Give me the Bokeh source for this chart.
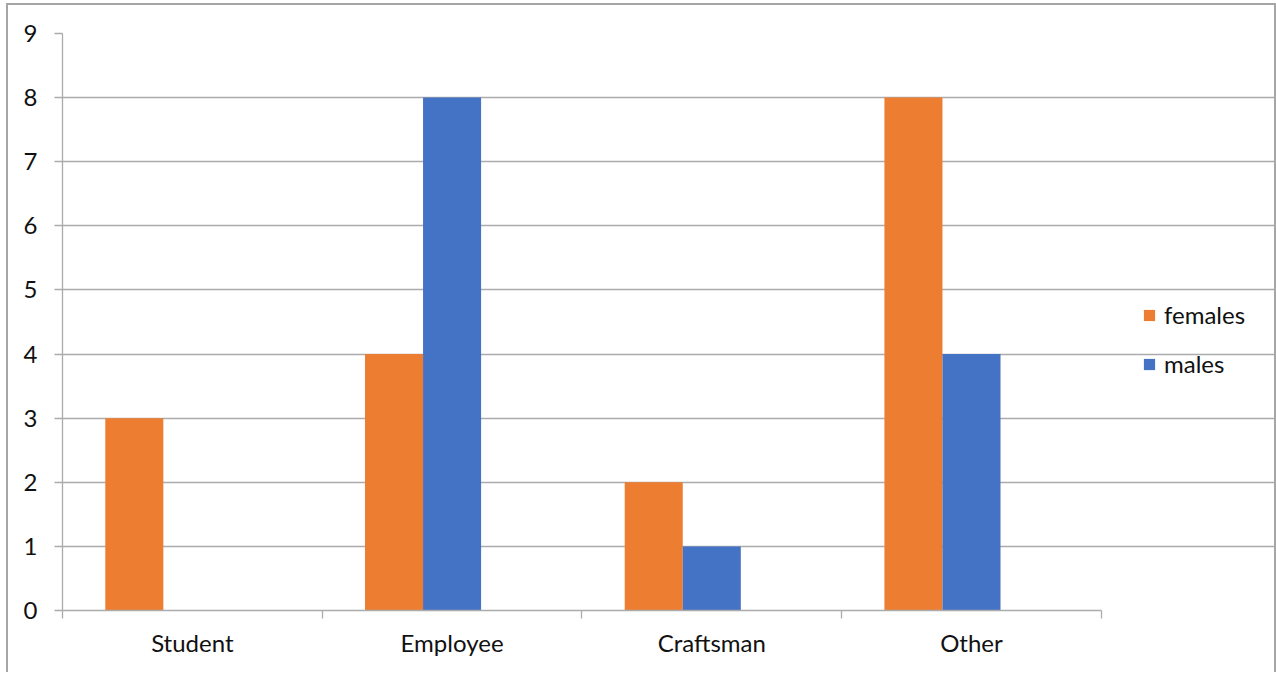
from bokeh.plotting import figure
from bokeh.models import ColumnDataSource, FixedTicker, Range1d, Legend, LegendItem
from bokeh.transform import dodge
from bokeh.embed import file_html
from bokeh.resources import INLINE

categories = ["Student", "Employee", "Craftsman", "Other"]
females = [3, 4, 2, 8]
males = [0, 8, 1, 4]
y_ticks = [0, 1, 2, 3, 4, 5, 6, 7, 8, 9]

FONT = "Lato"
FONT_SIZE = "24px"
TEXT = "#111111"
GRID = "#ABABAB"
ORANGE = "#ED7D31"
BLUE = "#4472C4"
BAR_W = 0.2235

n = len(categories)
slots = [i + 0.5 for i in range(n)]
source = ColumnDataSource(data=dict(x=slots, females=females, males=males))

# the frame reaches the right edge so the legend can sit inside it;
# axis and gridlines are bounded to the category span
X_END = n * 1211 / 1038

p = figure(
    width=1270, height=669,
    x_range=Range1d(0, X_END), y_range=Range1d(0, 9),
    output_backend="svg", toolbar_location=None,
    min_border_left=54, min_border_right=4, min_border_top=28, min_border_bottom=64,
)
p.styles = {
    "border-top": "2px solid #A6A6A6",
    "border-left": "2px solid #A6A6A6",
    "border-right": "2px solid #A6A6A6",
    "margin-left": "6px",
    "margin-top": "3px",
}

r_f = p.vbar(x=dodge("x", -BAR_W, range=p.x_range), top="females", width=BAR_W,
             source=source, fill_color=ORANGE, line_color=None)
r_m = p.vbar(x="x", top="males", width=BAR_W,
             source=source, fill_color=BLUE, line_color=None)

p.outline_line_color = None
p.background_fill_color = "white"
p.border_fill_color = "white"

# horizontal gridlines only
p.xgrid.grid_line_color = None
p.ygrid.grid_line_color = GRID
p.ygrid.grid_line_width = 1.3
p.ygrid.ticker = FixedTicker(ticks=y_ticks)
p.ygrid.bounds = (0, n)

# y axis
p.yaxis.ticker = FixedTicker(ticks=y_ticks)
p.yaxis.axis_line_color = GRID
p.yaxis.axis_line_width = 1.3
p.yaxis.major_tick_line_color = GRID
p.yaxis.major_tick_line_width = 1.3
p.yaxis.major_tick_out = 8
p.yaxis.major_tick_in = 0
p.yaxis.minor_tick_line_color = None
p.yaxis.major_label_standoff = 17
p.yaxis.major_label_text_font = FONT
p.yaxis.major_label_text_font_size = FONT_SIZE
p.yaxis.major_label_text_color = TEXT

# x axis: labels at category centres, tick marks at category boundaries
p.xaxis.ticker = FixedTicker(ticks=slots, minor_ticks=list(range(n + 1)))
p.xaxis.bounds = (0, n)
p.xaxis.major_label_overrides = {s: c for s, c in zip(slots, categories)}
p.xaxis.axis_line_color = GRID
p.xaxis.axis_line_width = 1.3
p.xaxis.major_tick_line_color = None
p.xaxis.major_tick_out = 0
p.xaxis.major_tick_in = 0
p.xaxis.minor_tick_line_color = GRID
p.xaxis.minor_tick_line_width = 1.3
p.xaxis.minor_tick_out = 8
p.xaxis.minor_tick_in = 0
p.xaxis.major_label_standoff = 9
p.xaxis.major_label_text_font = FONT
p.xaxis.major_label_text_font_size = FONT_SIZE
p.xaxis.major_label_text_color = TEXT

legend = Legend(
    items=[LegendItem(label="females", renderers=[r_f]),
           LegendItem(label="males", renderers=[r_m])],
    location=(1080, 232), padding=0, margin=0, spacing=20,
    glyph_width=14, glyph_height=14, label_standoff=8,
    label_text_font=FONT, label_text_font_size=FONT_SIZE, label_text_color=TEXT,
    border_line_color=None, background_fill_alpha=0,
)
p.add_layout(legend, "center")

open("out.html", "w").write(file_html(p, INLINE))
